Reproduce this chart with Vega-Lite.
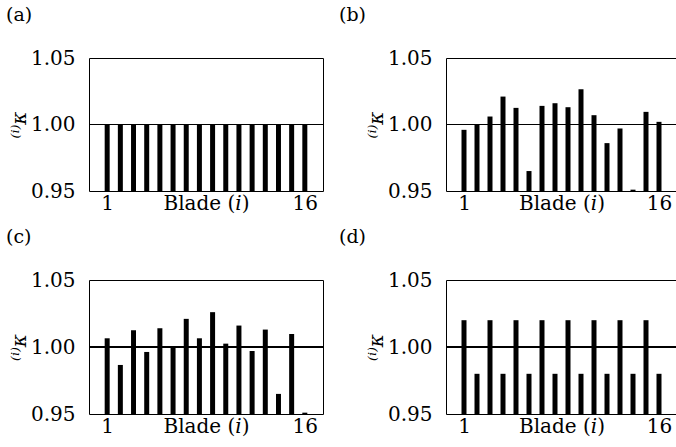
{
  "$schema": "https://vega.github.io/schema/vega-lite/v6.json",
  "padding": {"left": 5, "top": 5, "right": 0, "bottom": 0},
  "background": "white",
  "config": {
    "font": "DejaVu Serif",
    "view": {"stroke": "black", "strokeWidth": 1},
    "axis": {
      "labelFont": "DejaVu Serif", "labelFontSize": 20, "labelColor": "black",
      "titleFont": "DejaVu Serif", "titleFontSize": 20, "titleFontWeight": "normal", "titleColor": "black",
      "grid": false, "ticks": false, "domain": false
    },
    "axisX": {"labelPadding": 2, "labelBaseline": "top", "titleY": 2, "titleBaseline": "top"},
    "axisY": {"labelPadding": 14, "titlePadding": 1, "titleFontStyle": "italic"},
    "title": {"font": "DejaVu Serif", "fontSize": 19, "fontWeight": "normal", "anchor": "start", "frame": "group", "color": "black"}
  },
  "datasets": {
    "k": [
      {"panel": "a", "blade": 1, "kappa": 1.0}, {"panel": "a", "blade": 2, "kappa": 1.0}, {"panel": "a", "blade": 3, "kappa": 1.0}, {"panel": "a", "blade": 4, "kappa": 1.0},
      {"panel": "a", "blade": 5, "kappa": 1.0}, {"panel": "a", "blade": 6, "kappa": 1.0}, {"panel": "a", "blade": 7, "kappa": 1.0}, {"panel": "a", "blade": 8, "kappa": 1.0},
      {"panel": "a", "blade": 9, "kappa": 1.0}, {"panel": "a", "blade": 10, "kappa": 1.0}, {"panel": "a", "blade": 11, "kappa": 1.0}, {"panel": "a", "blade": 12, "kappa": 1.0},
      {"panel": "a", "blade": 13, "kappa": 1.0}, {"panel": "a", "blade": 14, "kappa": 1.0}, {"panel": "a", "blade": 15, "kappa": 1.0}, {"panel": "a", "blade": 16, "kappa": 1.0},
      {"panel": "b", "blade": 1, "kappa": 0.996}, {"panel": "b", "blade": 2, "kappa": 1.0}, {"panel": "b", "blade": 3, "kappa": 1.006}, {"panel": "b", "blade": 4, "kappa": 1.021},
      {"panel": "b", "blade": 5, "kappa": 1.0125}, {"panel": "b", "blade": 6, "kappa": 0.965}, {"panel": "b", "blade": 7, "kappa": 1.014}, {"panel": "b", "blade": 8, "kappa": 1.016},
      {"panel": "b", "blade": 9, "kappa": 1.013}, {"panel": "b", "blade": 10, "kappa": 1.0265}, {"panel": "b", "blade": 11, "kappa": 1.007}, {"panel": "b", "blade": 12, "kappa": 0.986},
      {"panel": "b", "blade": 13, "kappa": 0.997}, {"panel": "b", "blade": 14, "kappa": 0.951}, {"panel": "b", "blade": 15, "kappa": 1.0095}, {"panel": "b", "blade": 16, "kappa": 1.002},
      {"panel": "c", "blade": 1, "kappa": 1.0065}, {"panel": "c", "blade": 2, "kappa": 0.9866}, {"panel": "c", "blade": 3, "kappa": 1.0125}, {"panel": "c", "blade": 4, "kappa": 0.9963},
      {"panel": "c", "blade": 5, "kappa": 1.014}, {"panel": "c", "blade": 6, "kappa": 1.0}, {"panel": "c", "blade": 7, "kappa": 1.021}, {"panel": "c", "blade": 8, "kappa": 1.0065},
      {"panel": "c", "blade": 9, "kappa": 1.026}, {"panel": "c", "blade": 10, "kappa": 1.0025}, {"panel": "c", "blade": 11, "kappa": 1.016}, {"panel": "c", "blade": 12, "kappa": 0.997},
      {"panel": "c", "blade": 13, "kappa": 1.013}, {"panel": "c", "blade": 14, "kappa": 0.965}, {"panel": "c", "blade": 15, "kappa": 1.0097}, {"panel": "c", "blade": 16, "kappa": 0.951},
      {"panel": "d", "blade": 1, "kappa": 1.02}, {"panel": "d", "blade": 2, "kappa": 0.98}, {"panel": "d", "blade": 3, "kappa": 1.02}, {"panel": "d", "blade": 4, "kappa": 0.98},
      {"panel": "d", "blade": 5, "kappa": 1.02}, {"panel": "d", "blade": 6, "kappa": 0.98}, {"panel": "d", "blade": 7, "kappa": 1.02}, {"panel": "d", "blade": 8, "kappa": 0.98},
      {"panel": "d", "blade": 9, "kappa": 1.02}, {"panel": "d", "blade": 10, "kappa": 0.98}, {"panel": "d", "blade": 11, "kappa": 1.02}, {"panel": "d", "blade": 12, "kappa": 0.98},
      {"panel": "d", "blade": 13, "kappa": 1.02}, {"panel": "d", "blade": 14, "kappa": 0.98}, {"panel": "d", "blade": 15, "kappa": 1.02}, {"panel": "d", "blade": 16, "kappa": 0.98}
    ]
  },
  "columns": 2,
  "spacing": {"row": 89, "column": 123},
  "bounds": "flush",
  "concat": [
    {
      "width": 234, "height": 133,
      "title": {"text": "(a)", "dx": -83, "offset": 23},
      "data": {"name": "k"},
      "transform": [{"filter": "datum.panel === 'a'"}],
      "layer": [
        {"mark": {"type": "bar", "color": "black", "size": 5},
         "encoding": {
           "x": {"field": "blade", "type": "quantitative", "scale": {"domain": [0, 17]}, "axis": {"values": [1, 16], "title": "Blade (𝑖)"}},
           "y": {"field": "kappa", "type": "quantitative", "scale": {"domain": [0.95, 1.05], "zero": false, "clamp": true}, "axis": {"values": [0.95, 1.0, 1.05], "format": ".2f", "title": "⁽ⁱ⁾κ"}},
           "y2": {"datum": 0.95}}},
        {"mark": {"type": "rule", "color": "black", "strokeWidth": 1}, "encoding": {"y": {"datum": 1.0}}}
      ]
    },
    {
      "width": 231, "height": 133,
      "title": {"text": "(b)", "dx": -107, "offset": 23},
      "data": {"name": "k"},
      "transform": [{"filter": "datum.panel === 'b'"}],
      "layer": [
        {"mark": {"type": "bar", "color": "black", "size": 5},
         "encoding": {
           "x": {"field": "blade", "type": "quantitative", "scale": {"domain": [0, 17]}, "axis": {"values": [1, 16], "title": "Blade (𝑖)"}},
           "y": {"field": "kappa", "type": "quantitative", "scale": {"domain": [0.95, 1.05], "zero": false, "clamp": true}, "axis": {"values": [0.95, 1.0, 1.05], "format": ".2f", "title": "⁽ⁱ⁾κ"}},
           "y2": {"datum": 0.95}}},
        {"mark": {"type": "rule", "color": "black", "strokeWidth": 1}, "encoding": {"y": {"datum": 1.0}}}
      ]
    },
    {
      "width": 234, "height": 134,
      "title": {"text": "(c)", "dx": -83, "offset": 23},
      "data": {"name": "k"},
      "transform": [{"filter": "datum.panel === 'c'"}],
      "layer": [
        {"mark": {"type": "bar", "color": "black", "size": 5},
         "encoding": {
           "x": {"field": "blade", "type": "quantitative", "scale": {"domain": [0, 17]}, "axis": {"values": [1, 16], "title": "Blade (𝑖)"}},
           "y": {"field": "kappa", "type": "quantitative", "scale": {"domain": [0.95, 1.05], "zero": false, "clamp": true}, "axis": {"values": [0.95, 1.0, 1.05], "format": ".2f", "title": "⁽ⁱ⁾κ"}},
           "y2": {"datum": 0.95}}},
        {"mark": {"type": "rule", "color": "black", "strokeWidth": 1}, "encoding": {"y": {"datum": 1.0}}}
      ]
    },
    {
      "width": 231, "height": 134,
      "title": {"text": "(d)", "dx": -107, "offset": 23},
      "data": {"name": "k"},
      "transform": [{"filter": "datum.panel === 'd'"}],
      "layer": [
        {"mark": {"type": "bar", "color": "black", "size": 5},
         "encoding": {
           "x": {"field": "blade", "type": "quantitative", "scale": {"domain": [0, 17]}, "axis": {"values": [1, 16], "title": "Blade (𝑖)"}},
           "y": {"field": "kappa", "type": "quantitative", "scale": {"domain": [0.95, 1.05], "zero": false, "clamp": true}, "axis": {"values": [0.95, 1.0, 1.05], "format": ".2f", "title": "⁽ⁱ⁾κ"}},
           "y2": {"datum": 0.95}}},
        {"mark": {"type": "rule", "color": "black", "strokeWidth": 1}, "encoding": {"y": {"datum": 1.0}}}
      ]
    }
  ]
}
